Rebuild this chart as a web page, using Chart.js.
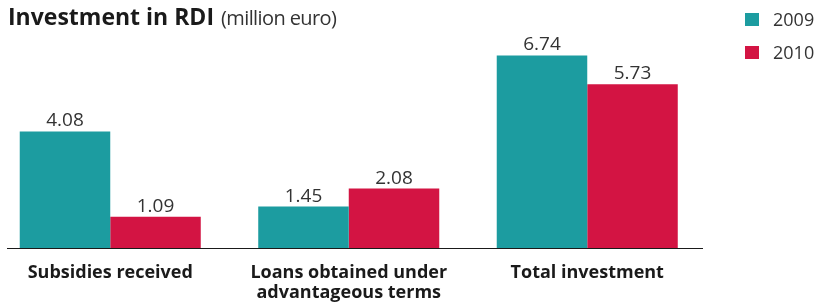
<!DOCTYPE html>
<html>
<head>
<meta charset="utf-8">
<script src="https://cdn.jsdelivr.net/npm/chart.js@4.4.0/dist/chart.umd.min.js"></script>
<style>
  html, body { margin: 0; padding: 0; background: #fff; overflow: hidden; }
  /* canvas is a bit wider and shifted left so the first group sits where it should */
  #wrap { width: 829px; height: 304px; margin-left: -9px; }
</style>
</head>
<body>
<div id="wrap"><canvas id="chart"></canvas></div>
<script>
// data
const categories = [["Subsidies received"], ["Loans obtained under", "advantageous terms"], ["Total investment"]];
const years = ["2009", "2010"];
const values2009 = [4.08, 1.45, 6.74];
const values2010 = [1.09, 2.08, 5.73];
const colors = ["#1c9ca0", "#d31443"];

const FONT = "'Open Sans', sans-serif";
const OFF = 9; // page x = canvas x - OFF

// title, legend, axis line and value labels
const extras = {
  id: "extras",
  afterDatasetsDraw(chart) {
    const ctx = chart.ctx;
    ctx.save();

    // value labels above the bars
    ctx.font = "19px " + FONT;
    ctx.fillStyle = "#333";
    ctx.textAlign = "center";
    ctx.textBaseline = "alphabetic";
    chart.data.datasets.forEach((ds, i) => {
      chart.getDatasetMeta(i).data.forEach((bar, j) => {
        ctx.fillText(ds.data[j].toFixed(2), bar.x, bar.y - 5);
      });
    });

    // axis line
    ctx.strokeStyle = "#1a1a1a";
    ctx.lineWidth = 1;
    ctx.beginPath();
    ctx.moveTo(7 + OFF, chart.chartArea.bottom + 0.5);
    ctx.lineTo(703 + OFF, chart.chartArea.bottom + 0.5);
    ctx.stroke();

    // title
    ctx.textAlign = "left";
    ctx.fillStyle = "#1a1a1a";
    ctx.font = "bold 23px " + FONT;
    ctx.fillText("Investment in RDI", 8 + OFF, 25);
    let w = ctx.measureText("Investment in RDI").width;
    ctx.fillStyle = "#333";
    ctx.font = "20px " + FONT;
    ctx.letterSpacing = "-0.6px";
    ctx.fillText("(million euro)", 8 + OFF + w + 7, 25);
    ctx.letterSpacing = "0px";

    // legend
    ctx.font = "18px " + FONT;
    chart.data.datasets.forEach((ds, i) => {
      const y = 13 + i * 33;
      ctx.fillStyle = ds.backgroundColor;
      ctx.fillRect(745 + OFF, y, 14, 13);
      ctx.fillStyle = "#333";
      ctx.fillText(ds.label, 773 + OFF, y + 13);
    });

    ctx.restore();
  }
};

new Chart(document.getElementById("chart"), {
  type: "bar",
  data: {
    labels: categories,
    datasets: [
      { label: years[0], data: values2009, backgroundColor: colors[0] },
      { label: years[1], data: values2010, backgroundColor: colors[1] }
    ]
  },
  options: {
    responsive: true,
    maintainAspectRatio: false,
    animation: false,
    layout: { padding: { left: 0, right: 113.5, top: 48, bottom: 0 } },
    datasets: { bar: { categoryPercentage: 0.759, barPercentage: 1 } },
    plugins: { legend: { display: false }, tooltip: { enabled: false } },
    scales: {
      x: {
        grid: { display: false },
        border: { display: false },
        ticks: {
          color: "#1a1a1a",
          padding: 7,
          font: { family: FONT, size: 18, weight: "bold", lineHeight: 1.1 }
        },
        afterFit(scale) { scale.height = 56; }
      },
      y: { display: false, min: 0, max: 7 }
    }
  },
  plugins: [extras]
});
</script>
</body>
</html>
